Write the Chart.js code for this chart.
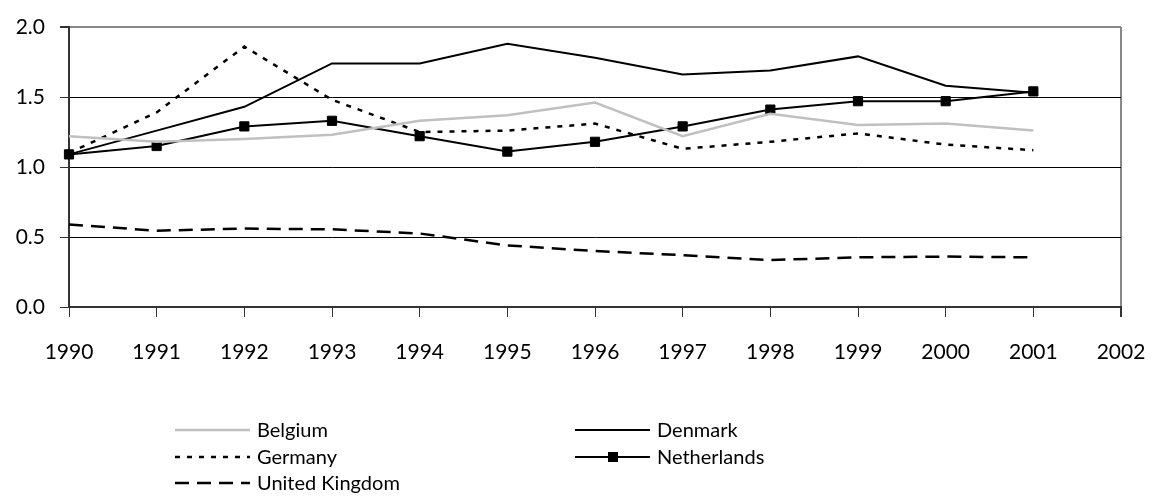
<!DOCTYPE html>
<html>
<head>
<meta charset="utf-8">
<script src="https://cdn.jsdelivr.net/npm/chart.js@4"></script>
<style>
html,body{margin:0;padding:0;background:#fff;}
#wrap{position:relative;width:1155px;height:498px;}
</style>
</head>
<body>
<div id="wrap"><canvas id="c" width="1155" height="498"></canvas></div>
<script>
const years = ['1990','1991','1992','1993','1994','1995','1996','1997','1998','1999','2000','2001','2002'];
const yTicks = [0.0, 0.5, 1.0, 1.5, 2.0];
const belgium     = [1.22,1.18,1.20,1.23,1.33,1.37,1.46,1.22,1.38,1.30,1.31,1.26];
const denmark     = [1.09,1.26,1.43,1.74,1.74,1.88,1.78,1.66,1.69,1.79,1.58,1.53];
const germany     = [1.10,1.39,1.86,1.48,1.25,1.26,1.31,1.13,1.18,1.24,1.16,1.12];
const netherlands = [1.09,1.15,1.29,1.33,1.22,1.11,1.18,1.29,1.41,1.47,1.47,1.54];
const uk          = [0.59,0.545,0.56,0.555,0.525,0.44,0.40,0.37,0.335,0.355,0.36,0.355];

const FONT = 'Lato, "Open Sans", sans-serif';

const legendPlugin = {
  id: 'customLegend',
  afterDraw(chart) {
    const ctx = chart.ctx;
    const pos = [
      {x: 175, y: 430}, {x: 575, y: 430},
      {x: 175, y: 457}, {x: 575, y: 457},
      {x: 175, y: 483}
    ];
    ctx.save();
    chart.data.datasets.forEach((ds, i) => {
      const p = pos[i];
      ctx.strokeStyle = ds.borderColor;
      ctx.lineWidth = ds.borderWidth;
      ctx.setLineDash(ds.borderDash || []);
      ctx.beginPath();
      ctx.moveTo(p.x, p.y);
      ctx.lineTo(p.x + 75, p.y);
      ctx.stroke();
      ctx.setLineDash([]);
      if (ds.pointRadius > 0) {
        ctx.fillStyle = ds.pointBackgroundColor;
        ctx.fillRect(p.x + 33, p.y - 5, 10, 10);
      }
      ctx.fillStyle = '#000';
      ctx.font = '20px ' + FONT;
      ctx.textBaseline = 'middle';
      ctx.textAlign = 'left';
      ctx.fillText(ds.label, p.x + 82, p.y + 1);
    });
    ctx.restore();
  }
};

new Chart(document.getElementById('c'), {
  type: 'line',
  data: {
    labels: years,
    datasets: [
      {label: 'Belgium', data: belgium, borderColor: '#c0c0c0', borderWidth: 2.5, pointRadius: 0, tension: 0},
      {label: 'Denmark', data: denmark, borderColor: '#000', borderWidth: 2, pointRadius: 0, tension: 0},
      {label: 'Germany', data: germany, borderColor: '#000', borderWidth: 2.5, borderDash: [5, 7], pointRadius: 0, tension: 0},
      {label: 'Netherlands', data: netherlands, borderColor: '#000', borderWidth: 2, pointRadius: 6.5, pointStyle: 'rect', pointBackgroundColor: '#000', pointBorderColor: '#000', pointBorderWidth: 1, tension: 0},
      {label: 'United Kingdom', data: uk, borderColor: '#000', borderWidth: 2.5, borderDash: [14, 8], pointRadius: 0, tension: 0}
    ]
  },
  options: {
    responsive: false,
    animation: false,
    devicePixelRatio: 1,
    layout: {padding: {left: 0, top: 27, right: 34, bottom: 131}},
    plugins: {legend: {display: false}, tooltip: {enabled: false}},
    scales: {
      x: {
        offset: false,
        grid: {
          color: c => c.index === 12 ? '#888' : 'rgba(0,0,0,0)',
          lineWidth: c => c.index === 12 ? 2 : 1,
          tickColor: '#333',
          tickLength: 10,
          drawOnChartArea: true
        },
        border: {color: '#333', width: 2},
        ticks: {color: '#000', font: {family: FONT, size: 21}, padding: 23, maxRotation: 0, autoSkip: false},
        afterFit: s => { s.height = 60; s.paddingLeft = 0; s.paddingRight = 0; }
      },
      y: {
        min: 0, max: 2,
        afterBuildTicks: s => { s.ticks = yTicks.map(v => ({value: v})); },
        grid: {
          color: c => c.tick && c.tick.value === 2 ? '#888' : '#000',
          lineWidth: c => c.tick && c.tick.value === 2 ? 2 : 1,
          tickColor: '#333',
          tickLength: 9
        },
        border: {color: '#333', width: 2},
        ticks: {color: '#000', font: {family: FONT, size: 21}, padding: 15, callback: v => Number(v).toFixed(1)},
        afterFit: s => { s.width = 69; s.paddingTop = 0; s.paddingBottom = 0; }
      }
    }
  },
  plugins: [legendPlugin]
});
</script>
</body>
</html>
